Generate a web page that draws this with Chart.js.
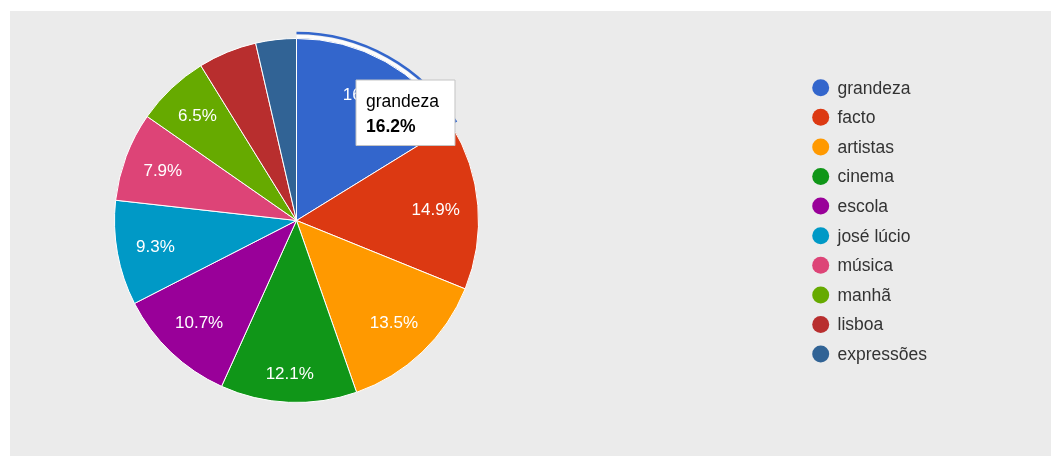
<!DOCTYPE html>
<html><head><meta charset="utf-8">
<script src="https://cdn.jsdelivr.net/npm/chart.js"></script>
<style>
html,body{margin:0;padding:0;background:#fff;overflow:hidden;}
#wrap{position:absolute;left:10px;top:11px;width:1041px;height:445px;background:#ebebeb;}
canvas{display:block}
</style></head><body>
<div id="wrap"><canvas id="c" width="1041" height="445"></canvas></div>
<script>
const categories = ['grandeza','facto','artistas','cinema','escola','josé lúcio','música','manhã','lisboa','expressões'];
const shares = [16.2, 14.9, 13.5, 12.1, 10.7, 9.3, 7.9, 6.5, 5.2, 3.6];
const sliceColors = ['#3366cc','#dc3912','#ff9900','#109618','#990099','#0099c6','#dd4477','#66aa00','#b82e2e','#316395'];
const highlightedIndex = 0;
const minLabelShare = 6;
const FONT = 'Arial, "Liberation Sans", sans-serif';

const sliceLabels = {
  id: 'sliceLabels',
  afterDatasetsDraw(chart) {
    const ctx = chart.ctx;
    const meta = chart.getDatasetMeta(0);
    const data = chart.data.datasets[0].data;
    ctx.save();
    ctx.font = '17px ' + FONT;
    ctx.fillStyle = '#ffffff';
    ctx.textAlign = 'center';
    ctx.textBaseline = 'middle';
    meta.data.forEach((arc, i) => {
      if (data[i] < minLabelShare) return;
      const p = arc.getProps(['x','y','startAngle','endAngle','outerRadius'], true);
      const mid = (p.startAngle + p.endAngle) / 2;
      const txt = data[i].toFixed(1) + '%';
      const w = ctx.measureText(txt).width;
      const c = Math.cos(mid), s = Math.sin(mid);
      const d = p.outerRadius * 0.89 - (Math.abs(c) * w / 2 * 0.9 + Math.abs(s) * 8);
      ctx.fillText(txt, p.x + c * d, p.y + s * d + 1);
    });
    ctx.restore();
  }
};

const hoverRing = {
  id: 'hoverRing',
  afterDatasetsDraw(chart) {
    const ctx = chart.ctx;
    const arc = chart.getDatasetMeta(0).data[highlightedIndex];
    const p = arc.getProps(['x','y','startAngle','endAngle','outerRadius'], true);
    ctx.save();
    ctx.beginPath();
    ctx.arc(p.x, p.y, p.outerRadius + 2, p.startAngle, p.endAngle);
    ctx.strokeStyle = 'rgba(255,255,255,0.9)';
    ctx.lineWidth = 3;
    ctx.stroke();
    ctx.beginPath();
    ctx.arc(p.x, p.y, p.outerRadius + 5.5, p.startAngle, p.endAngle);
    ctx.strokeStyle = sliceColors[highlightedIndex];
    ctx.lineWidth = 2.5;
    ctx.stroke();
    ctx.restore();
  }
};

const sideLegend = {
  id: 'sideLegend',
  afterDraw(chart) {
    const ctx = chart.ctx;
    const x0 = 810.7, y0 = 76.7, step = 29.6;
    ctx.save();
    ctx.font = '17.5px ' + FONT;
    ctx.textBaseline = 'middle';
    ctx.textAlign = 'left';
    chart.data.labels.forEach((lab, i) => {
      const y = y0 + i * step;
      ctx.beginPath();
      ctx.arc(x0, y, 8.5, 0, Math.PI * 2);
      ctx.fillStyle = chart.data.datasets[0].backgroundColor[i];
      ctx.fill();
      ctx.fillStyle = '#333333';
      ctx.fillText(lab, x0 + 16.8, y + 1);
    });
    ctx.restore();
  }
};

Chart.Tooltip.positioners.fixedBox = function(elements) {
  if (!elements.length) return false;
  const a = elements[0].element;
  return { x: a.x + 59.5, y: a.y - 140.5 };
};

const chart = new Chart(document.getElementById('c'), {
  type: 'pie',
  data: {
    labels: categories,
    datasets: [{
      data: shares,
      backgroundColor: sliceColors,
      borderColor: '#ffffff',
      borderWidth: 1,
      hoverOffset: 0
    }]
  },
  options: {
    responsive: false,
    devicePixelRatio: 1,
    animation: false,
    events: [],
    layout: { padding: { left: 104, top: 27, right: 572, bottom: 53 } },
    plugins: {
      legend: { display: false },
      tooltip: {
        enabled: true,
        position: 'fixedBox',
        xAlign: 'left',
        yAlign: 'top',
        caretSize: 0,
        caretPadding: 0,
        backgroundColor: '#ffffff',
        borderColor: '#c4c4c4',
        borderWidth: 1,
        cornerRadius: 0,
        displayColors: false,
        titleColor: '#000000',
        bodyColor: '#000000',
        titleFont: { family: FONT, size: 17.5, weight: 'normal', lineHeight: 1.2 },
        bodyFont: { family: FONT, size: 17.5, weight: 'bold', lineHeight: 1.2 },
        titleMarginBottom: 3.5,
        padding: { top: 12, bottom: 8, left: 10, right: 16 },
        callbacks: {
          title: (items) => items[0].label,
          label: (item) => item.raw.toFixed(1) + '%'
        }
      }
    }
  },
  plugins: [hoverRing, sliceLabels, sideLegend]
});
chart.tooltip.setActiveElements([{ datasetIndex: 0, index: highlightedIndex }], { x: 0, y: 0 });
chart.update();
</script>
</body></html>
